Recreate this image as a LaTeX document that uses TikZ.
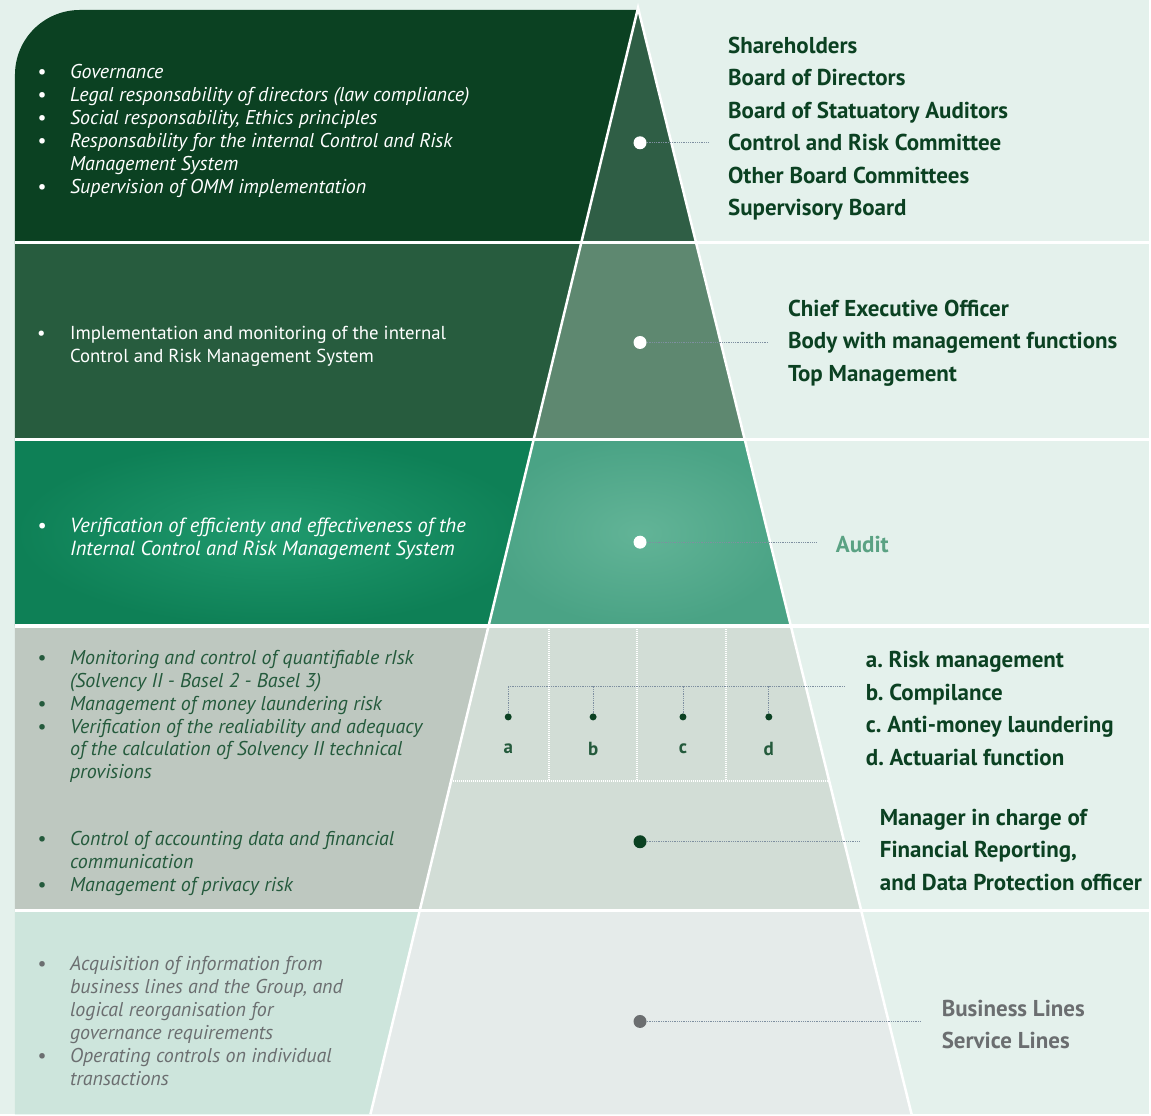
\documentclass[tikz,border=0pt]{standalone}
\usepackage{fontspec}
\setmainfont{PT Sans}
\usetikzlibrary{calc}

\definecolor{bg}{HTML}{E4F1EC}
\definecolor{darkgreen}{HTML}{0B4122}
\definecolor{bandA}{HTML}{0B4122}
\definecolor{pyrA}{HTML}{2F5E45}
\definecolor{bandB}{HTML}{275C3E}
\definecolor{pyrB}{HTML}{5E8870}
\definecolor{bandCin}{HTML}{1F996D}
\definecolor{bandCout}{HTML}{0E8056}
\definecolor{pyrCin}{HTML}{62B497}
\definecolor{pyrCout}{HTML}{4AA385}
\definecolor{bandD}{HTML}{BEC8C0}
\definecolor{pyrD}{HTML}{D2DDD6}
\definecolor{bandE}{HTML}{CDE5DC}
\definecolor{pyrE}{HTML}{E5EBEA}
\definecolor{softgreen}{HTML}{245A3C}
\definecolor{auditgreen}{HTML}{5AA283}
\definecolor{greytext}{HTML}{6B6E70}
\definecolor{connblue}{HTML}{7E8FA0}

% bullet list: bullet column, then text column
\newcommand{\blist}[1]{\begin{tabular}{@{}p{33pt}@{}l@{}}#1\end{tabular}}

\tikzset{
  conn/.style={draw=connblue, densely dotted, line width=0.8pt},
  spot/.style={circle, inner sep=0pt, minimum size=13pt},
  pin/.style={circle, inner sep=0pt, minimum size=7pt, fill=darkgreen},
  letter/.style={inner sep=0pt, text=softgreen, font=\fontsize{19}{20}\selectfont\bfseries},
  lefttext/.style={anchor=west, inner sep=0pt, text=white, font=\fontsize{20}{23}\selectfont\itshape},
  righttext/.style={anchor=west, inner sep=0pt, align=left, text=darkgreen, font=\fontsize{23}{32.5}\selectfont\bfseries\frenchspacing},
  sepline/.style={white, line width=3.5pt},
  gridline/.style={white, line width=2pt, dash pattern=on 1pt off 1pt},
}

\begin{document}
\begin{tikzpicture}[x=1pt, y=-1pt]
% background
\fill[bg] (0,0) rectangle (1151,1116);

% top band, rounded at the top left
\fill[bandA] (15,243) -- (15,75) .. controls (15,39) and (44,10) .. (80,10) -- (638,10) -- (582.2,243) -- cycle;
\fill[pyrA] (639,8) -- (697.1,243) -- (582.2,243) -- cycle;

% the other bands: left block and pyramid slice
\foreach \yt/\yb/\lt/\lb/\rt/\rb/\cl/\cp in {
    243/440/582.2/534.5/697.1/745.8/bandB/pyrB,
    627/912/489.3/420.3/792.1/862.6/bandD/pyrD,
    912/1116/420.3/371/862.6/913/bandE/pyrE} {
  \fill[\cl] (15,\yt) -- (\lt,\yt) -- (\lb,\yb) -- (15,\yb) -- cycle;
  \fill[\cp] (\lt,\yt) -- (\rt,\yt) -- (\rb,\yb) -- (\lb,\yb) -- cycle;
}
\shade[inner color=bandCin, outer color=bandCout] (15,440) -- (534.5,440) -- (489.3,627) -- (15,627) -- cycle;
\shade[inner color=pyrCin, outer color=pyrCout] (534.5,440) -- (745.8,440) -- (792.1,627) -- (489.3,627) -- cycle;

% white outline and separators
\draw[white, line width=2.5pt] (371,1116) -- (639,8) -- (913,1116);
\foreach \y in {243,440,627,912}
  \draw[sepline] (15,\y) -- (1151,\y);

% grid of the control functions
\foreach \x in {550,638,727}
  \draw[gridline] (\x,630) -- (\x,782);
\draw[gridline] (451.8,782) -- (830.4,782);

% left texts
\node[lefttext] (t1) at (37,132) {\blist{
  \textbullet & Governance\\
  \textbullet & Legal responsability of directors (law compliance)\\
  \textbullet & Social responsability, Ethics principles\\
  \textbullet & Responsability for the internal Control and Risk\\
              & Management System\\
  \textbullet & Supervision of OMM implementation}};
\node[lefttext, font=\fontsize{18.8}{23}\selectfont] (t2) at (37,347) {\blist{
  \textbullet & Implementation and monitoring of the internal\\
              & Control and Risk Management System}};
\node[lefttext, font=\fontsize{20.5}{23}\selectfont\itshape] (t3) at (37,540) {\blist{
  \textbullet & Verification of efficienty and effectiveness of the\\
              & Internal Control and Risk Management System}};
\node[lefttext, text=softgreen] (t4) at (37,718) {\blist{
  \textbullet & Monitoring and control of quantifiable rIsk\\
              & (Solvency II - Basel 2 - Basel 3)\\
  \textbullet & Management of money laundering risk\\
  \textbullet & Verification of the realiability and adequacy\\
              & of the calculation of Solvency II technical\\
              & provisions}};
\node[lefttext, text=softgreen] (t5) at (37,865) {\blist{
  \textbullet & Control of accounting data and financial\\
              & communication\\
  \textbullet & Management of privacy risk}};
\node[lefttext, text=greytext] (t6) at (37,1025) {\blist{
  \textbullet & Acquisition of information from\\
              & business lines and the Group, and\\
              & logical reorganisation for\\
              & governance requirements\\
  \textbullet & Operating controls on individual\\
              & transactions}};

% right texts
\node[righttext] (r1) at (729,129) {Shareholders\\Board of Directors\\Board of Statuatory Auditors\\Control and Risk Committee\\Other Board Committees\\Supervisory Board};
\node[righttext] (r2) at (789,343.5) {Chief Executive Officer\\Body with management functions\\Top Management};
\node[righttext, text=auditgreen] (r3) at (837,545) {Audit};
\node[righttext] (r4) at (867,709.5) {a. Risk management\\b. Compilance\\c. Anti-money laundering\\d. Actuarial function};
\node[righttext] (r5) at (881,851) {Manager in charge of\\Financial Reporting,\\and Data Protection officer};
\node[righttext, text=greytext] (r6) at (943,1026) {Business Lines\\Service Lines};

% dots on the pyramid
\node[spot, fill=white] (d1) at (641,143) {};
\node[spot, fill=white] (d2) at (641,343) {};
\node[spot, fill=white] (d3) at (641,543) {};
\node[spot, fill=darkgreen] (d4) at (641,843) {};
\node[spot, fill=greytext] (d5) at (641,1023) {};

\foreach \d/\r in {d1/r1, d2/r2, d3/r3, d4/r5, d5/r6}
  \draw[conn, shorten >=20pt] (\d) -- (\d -| \r.west);

% a, b, c, d
\coordinate (hub) at (847,687);
\foreach \n/\x in {a/509, b/594, c/684, d/770} {
  \node[pin] (p\n) at (\x,718) {};
  \node[letter] (l\n) at (\x,750) {\n};
}
\draw[conn] (pa) |- (hub);
\foreach \n in {b,c,d}
  \draw[conn] (p\n) -- (p\n |- hub);
\end{tikzpicture}
\end{document}
